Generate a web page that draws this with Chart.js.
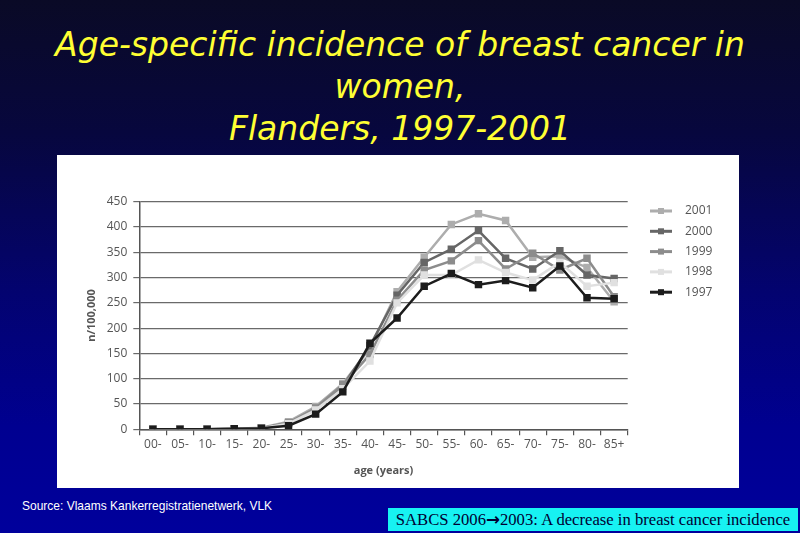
<!DOCTYPE html>
<html>
<head>
<meta charset="utf-8">
<script src="https://cdn.jsdelivr.net/npm/chart.js@4"></script>
<style>
  html, body { margin: 0; padding: 0; }
  body {
    width: 800px; height: 533px; overflow: hidden; position: relative;
    background: linear-gradient(#0a0a26 0%, #07073e 25%, #030370 55%, #000090 80%, #00009c 100%);
  }
  #title {
    position: absolute; left: 0; top: 24px; width: 800px;
    text-align: center; color: #ffff33;
    font-family: "DejaVu Sans", sans-serif; font-style: italic;
    font-size: 33px; line-height: 42px;
  }
  #panel {
    position: absolute; left: 57px; top: 155px; width: 682px; height: 333px;
    background: #fff;
  }
  #source {
    position: absolute; left: 22px; top: 498px; color: #fff; white-space: nowrap;
    font-family: "Liberation Sans", sans-serif; font-size: 13px;
    transform-origin: left center;
  }
  #note {
    position: absolute; left: 388px; top: 508px; width: 410px; height: 23px;
    background: #17f2f2; color: #000033;
    font-family: "Liberation Serif", serif; font-size: 17px; line-height: 23px;
    white-space: nowrap; overflow: hidden;
  }
  #note span { display: inline-block; padding-left: 8px; transform-origin: left center; }
  #note b { font-family: "DejaVu Sans", sans-serif; font-size: 17px; }
</style>
</head>
<body>
<div id="title">Age-specific incidence of breast cancer in<br>women,<br>Flanders, 1997-2001</div>
<div id="panel"><canvas id="chart" width="682" height="333"></canvas></div>
<div id="source">Source: Vlaams Kankerregistratienetwerk, VLK</div>
<div id="note"><span id="noteText">SABCS 2006<b>&#x2192;</b>2003: A decrease in breast cancer incidence</span></div>
<script>
// DATA
const ages = ["00-", "05-", "10-", "15-", "20-", "25-", "30-", "35-", "40-",
              "45-", "50-", "55-", "60-", "65-", "70-", "75-", "80-", "85+"];
const years = ["2001", "2000", "1999", "1998", "1997"];
const y2001 = [0, 0, 0, 1, 3, 15, 45, 90, 160, 272, 340, 405, 426, 413, 340, 342, 320, 252];
const y2000 = [0, 0, 0, 1, 2, 12, 40, 85, 165, 265, 330, 356, 393, 338, 317, 353, 305, 298];
const y1999 = [0, 0, 0, 1, 2, 13, 42, 88, 148, 255, 315, 333, 373, 317, 348, 315, 338, 262];
const y1998 = [0, 0, 0, 1, 2, 11, 38, 80, 135, 250, 305, 305, 335, 310, 295, 330, 283, 290];
const y1997 = [0, 0, 0, 1, 2, 7, 30, 74, 170, 220, 283, 308, 286, 294, 280, 323, 260, 258];
const yTicks = [0, 50, 100, 150, 200, 250, 300, 350, 400, 450];

const colors = ["#adadad", "#666666", "#8c8c8c", "#e0e0e0", "#1c1c1c"];
const values = [y2001, y2000, y1999, y1998, y1997];

// squeeze the bottom texts to the widths seen in the slide
function fitWidth(id, w) {
  const el = document.getElementById(id);
  el.style.transform = "scaleX(" + (w / el.getBoundingClientRect().width).toFixed(3) + ")";
}
fitWidth("noteText", 402);
fitWidth("source", 250);

const datasets = years.map((yr, i) => ({
  label: yr,
  data: values[i],
  borderColor: colors[i],
  backgroundColor: colors[i],
  borderWidth: 2.5,
  pointStyle: "rect",
  pointRadius: 3.5,
  tension: 0,
  order: 5 - i   // 1997 on top
}));

// legend: line with a square in the middle
const sideLegend = {
  id: "sideLegend",
  afterDraw(chart) {
    const c = chart.ctx;
    c.save();
    c.font = "12px 'Open Sans'";
    c.textBaseline = "middle";
    chart.data.datasets.forEach((ds, i) => {
      const y = 56 + i * 20.3;
      c.strokeStyle = ds.borderColor;
      c.lineWidth = 3;
      c.beginPath(); c.moveTo(593, y); c.lineTo(615, y); c.stroke();
      c.fillStyle = ds.borderColor;
      c.fillRect(601, y - 3, 6, 6);
      c.fillStyle = "#555";
      c.fillText(ds.label, 628, y);
    });
    c.restore();
  }
};

new Chart(document.getElementById("chart"), {
  type: "line",
  data: { labels: ages, datasets: datasets },
  options: {
    responsive: false,
    animation: false,
    layout: { padding: { left: 24, top: 46.7, right: 111.3, bottom: 7 } },
    plugins: { legend: { display: false }, tooltip: { enabled: false } },
    scales: {
      x: {
        offset: true,
        grid: { drawOnChartArea: false, offset: true, color: "#555", tickLength: 6, lineWidth: 1.2 },
        border: { color: "#555", width: 1.5 },
        ticks: { color: "#555", font: { family: "Open Sans", size: 12 }, padding: 2, autoSkip: false, maxRotation: 0 },
        title: { display: true, text: "age (years)", color: "#555", font: { family: "Open Sans", size: 11, weight: "bold" }, padding: { top: 4, bottom: 4 } },
        afterFit: s => { s.height = 51.7; }
      },
      y: {
        min: 0, max: 450,
        afterBuildTicks: s => { s.ticks = yTicks.map(v => ({ value: v })); },
        grid: { color: "#6a6a6a", lineWidth: 1.2, tickLength: 6 },
        border: { color: "#555", width: 1.5 },
        ticks: { color: "#555", font: { family: "Open Sans", size: 12 }, padding: 6 },
        title: { display: true, text: "n/100,000", color: "#555", font: { family: "Open Sans", size: 11, weight: "bold" }, padding: { top: 4, bottom: 4 } },
        afterFit: s => { s.width = 58.3; }
      }
    }
  },
  plugins: [sideLegend]
});
</script>
</body>
</html>
